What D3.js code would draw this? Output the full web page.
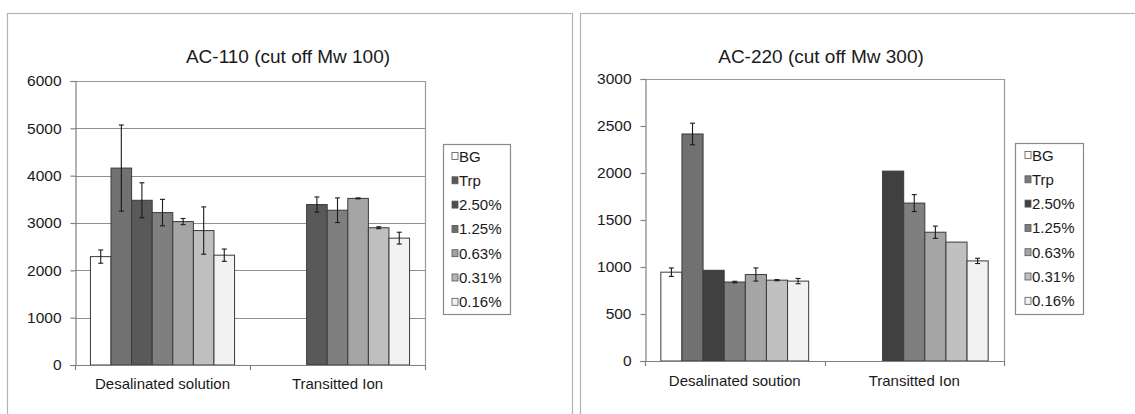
<!DOCTYPE html>
<html>
<head>
<meta charset="utf-8">
<script src="https://cdn.jsdelivr.net/npm/d3@7"></script>
<style>
  html, body { margin: 0; padding: 0; background: #fff; }
  svg { display: block; font-family: "Liberation Sans", Arial, sans-serif; }
</style>
</head>
<body>
<svg id="chart" width="1135" height="414"></svg>
<script>
// Series (legend order)
const series = ["BG", "Trp", "2.50%", "1.25%", "0.63%", "0.31%", "0.16%"];

// AC-110 (cut off Mw 100)
const ac110Categories = ["Desalinated solution", "Transitted Ion"];
const ac110Desalinated = [2290, 4160, 3480, 3220, 3030, 2840, 2320];
const ac110DesalinatedErr = [140, 910, 370, 280, 65, 500, 130];
const ac110Transitted = [null, null, 3390, 3270, 3520, 2900, 2680];
const ac110TransittedErr = [0, 0, 160, 260, 10, 20, 125];
const ac110Ticks = [0, 1000, 2000, 3000, 4000, 5000, 6000];

// AC-220 (cut off Mw 300)
const ac220Categories = ["Desalinated soution", "Transitted Ion"];
const ac220Desalinated = [945, 2415, 965, 840, 920, 860, 850];
const ac220DesalinatedErr = [45, 115, 0, 8, 70, 6, 28];
const ac220Transitted = [null, null, 2020, 1680, 1370, 1265, 1065];
const ac220TransittedErr = [0, 0, 0, 90, 65, 0, 28];
const ac220Ticks = [0, 500, 1000, 1500, 2000, 2500, 3000];

const svg = d3.select("#chart");

// fine stipple used for the Trp bars
const defs = svg.append("defs");
const pat = defs.append("pattern")
  .attr("id", "trpFill").attr("patternUnits", "userSpaceOnUse")
  .attr("width", 2).attr("height", 2);
pat.append("rect").attr("width", 2).attr("height", 2).attr("fill", "#777777");
pat.append("rect").attr("x", 0).attr("y", 0).attr("width", 1).attr("height", 1).attr("fill", "#6a6a6a");
pat.append("rect").attr("x", 1).attr("y", 1).attr("width", 1).attr("height", 1).attr("fill", "#6d6d6d");

function drawPanel(cfg) {
  const g = svg.append("g");

  // outer chart frame
  g.append("rect")
    .attr("x", cfg.frame[0] + 0.5).attr("y", cfg.frame[1] + 0.5)
    .attr("width", cfg.frame[2]).attr("height", cfg.frame[3])
    .attr("fill", "none").attr("stroke", "#b4b4b4").attr("stroke-width", 1.2);

  const x0 = d3.scaleBand().domain(cfg.categories).range([cfg.left, cfg.right]);
  const barW = x0.bandwidth() / 8.5;
  const x1 = d3.scaleBand().domain(series)
    .range([barW * 0.75, x0.bandwidth() - barW * 0.75]);
  const y = d3.scaleLinear().domain([0, cfg.max]).range([cfg.bottom, cfg.top]);

  // plot area border (top and right)
  g.append("path")
    .attr("d", `M${cfg.left},${cfg.top + 0.5}H${cfg.right + 0.5}V${cfg.bottom}`)
    .attr("fill", "none").attr("stroke", "#9a9a9a").attr("stroke-width", 1.2);

  // horizontal gridlines
  if (cfg.grid) {
    g.append("g").selectAll("line")
      .data(cfg.ticks.filter(t => t > 0 && t < cfg.max))
      .join("line")
      .attr("x1", cfg.left).attr("x2", cfg.right)
      .attr("y1", d => Math.round(y(d)) + 0.5).attr("y2", d => Math.round(y(d)) + 0.5)
      .attr("stroke", "#8f8f8f").attr("stroke-width", 1.2);
  }

  // bars
  const groups = [cfg.groupA, cfg.groupB];
  const errs = [cfg.errA, cfg.errB];
  cfg.categories.forEach((cat, ci) => {
    const rows = series.map((s, i) => ({ s, i, v: groups[ci][i], e: errs[ci][i] }))
      .filter(d => d.v != null);
    const cg = g.append("g").attr("transform", `translate(${x0(cat)},0)`);
    cg.selectAll("rect").data(rows).join("rect")
      .attr("x", d => x1(d.s)).attr("width", x1.bandwidth())
      .attr("y", d => y(d.v)).attr("height", d => y(0) - y(d.v))
      .attr("fill", d => cfg.colors[d.i])
      .attr("stroke", "#3a3a3a").attr("stroke-width", 1);
    // error bars
    const eb = cg.selectAll("g.err").data(rows.filter(d => d.e > 0)).join("g")
      .attr("class", "err").attr("stroke", "#1a1a1a").attr("stroke-width", 1.1);
    eb.append("line")
      .attr("x1", d => x1(d.s) + x1.bandwidth() / 2).attr("x2", d => x1(d.s) + x1.bandwidth() / 2)
      .attr("y1", d => y(d.v + d.e)).attr("y2", d => y(d.v - d.e));
    eb.append("line")
      .attr("x1", d => x1(d.s) + x1.bandwidth() / 2 - 2.5).attr("x2", d => x1(d.s) + x1.bandwidth() / 2 + 2.5)
      .attr("y1", d => y(d.v + d.e)).attr("y2", d => y(d.v + d.e));
    eb.append("line")
      .attr("x1", d => x1(d.s) + x1.bandwidth() / 2 - 2.5).attr("x2", d => x1(d.s) + x1.bandwidth() / 2 + 2.5)
      .attr("y1", d => y(d.v - d.e)).attr("y2", d => y(d.v - d.e));
  });

  // y axis
  const yAxis = g.append("g").attr("transform", `translate(${cfg.left + 0.5},0)`)
    .call(d3.axisLeft(y).tickValues(cfg.ticks).tickSize(5).tickPadding(9).tickFormat(d3.format("d")));
  yAxis.select(".domain").attr("stroke", "#808080").attr("stroke-width", 1.2);
  yAxis.selectAll(".tick line").attr("stroke", "#808080").attr("stroke-width", 1.2);
  yAxis.selectAll("text").attr("font-size", 15.5).attr("fill", "#1a1a1a")
    .attr("font-family", "Liberation Sans, Arial, sans-serif");

  // x axis: category boundaries and labels
  const xg = g.append("g");
  xg.append("line")
    .attr("x1", cfg.left - 5).attr("x2", cfg.right)
    .attr("y1", cfg.bottom + 0.5).attr("y2", cfg.bottom + 0.5)
    .attr("stroke", "#808080").attr("stroke-width", 1.2);
  const bounds = cfg.categories.map(c => x0(c)).concat([cfg.right]);
  xg.selectAll("line.tk").data(bounds).join("line").attr("class", "tk")
    .attr("x1", d => Math.round(d) + 0.5).attr("x2", d => Math.round(d) + 0.5)
    .attr("y1", cfg.bottom).attr("y2", cfg.bottom + 5)
    .attr("stroke", "#808080").attr("stroke-width", 1.2);
  xg.selectAll("text").data(cfg.categories).join("text")
    .attr("x", d => x0(d) + x0.bandwidth() / 2 + cfg.labelShift)
    .attr("y", cfg.labelY)
    .attr("text-anchor", "middle").attr("font-size", 15).attr("fill", "#1a1a1a")
    .text(d => d);

  // title
  g.append("text")
    .attr("x", cfg.titleX).attr("y", cfg.titleY)
    .attr("text-anchor", "middle").attr("font-size", 19).attr("fill", "#1a1a1a")
    .text(cfg.title);

  // legend
  const lg = g.append("g");
  lg.append("rect")
    .attr("x", cfg.legend[0] + 0.5).attr("y", cfg.legend[1] + 0.5)
    .attr("width", cfg.legend[2]).attr("height", cfg.legend[3])
    .attr("fill", "#fff").attr("stroke", "#8a8a8a").attr("stroke-width", 1.2);
  const items = lg.selectAll("g.item").data(series).join("g").attr("class", "item")
    .attr("transform", (d, i) => `translate(${cfg.legend[0]},${cfg.legend[1] + 12 + i * 24.3})`);
  items.append("rect")
    .attr("x", cfg.swatchX).attr("y", -3.5).attr("width", 6).attr("height", 7)
    .attr("fill", (d, i) => cfg.legendColors[i])
    .attr("stroke", "#555").attr("stroke-width", 0.8);
  items.append("text")
    .attr("x", cfg.swatchX + 7).attr("y", 5.5)
    .attr("font-size", 15).attr("fill", "#1a1a1a")
    .text(d => d);
}

drawPanel({
  title: "AC-110 (cut off Mw 100)",
  titleX: 288, titleY: 63,
  frame: [7, 13, 565, 440],
  categories: ac110Categories,
  groupA: ac110Desalinated, errA: ac110DesalinatedErr,
  groupB: ac110Transitted, errB: ac110TransittedErr,
  max: 6000, ticks: ac110Ticks, grid: true,
  left: 75, right: 425, top: 81, bottom: 365,
  labelY: 389, labelShift: 0,
  colors: ["#ffffff", "url(#trpFill)", "#595959", "#7f7f7f", "#a5a5a5", "#bfbfbf", "#f2f2f2"],
  legendColors: ["#ffffff", "#595959", "#4d4d4d", "#6e6e6e", "#a0a0a0", "#b5b5b5", "#f2f2f2"],
  legend: [443, 144, 67, 170], swatchX: 9
});

drawPanel({
  title: "AC-220 (cut off Mw 300)",
  titleX: 821, titleY: 63,
  frame: [580, 13, 600, 440],
  categories: ac220Categories,
  groupA: ac220Desalinated, errA: ac220DesalinatedErr,
  groupB: ac220Transitted, errB: ac220TransittedErr,
  max: 3000, ticks: ac220Ticks, grid: false,
  left: 645, right: 1004, top: 79, bottom: 361,
  labelY: 386, labelShift: 0,
  colors: ["#ffffff", "url(#trpFill)", "#404040", "#7f7f7f", "#a5a5a5", "#c0c0c0", "#f2f2f2"],
  legendColors: ["#ffffff", "#7a7a7a", "#404040", "#7f7f7f", "#a5a5a5", "#c0c0c0", "#f2f2f2"],
  legend: [1015, 143, 68, 171], swatchX: 10
});
</script>
</body>
</html>
